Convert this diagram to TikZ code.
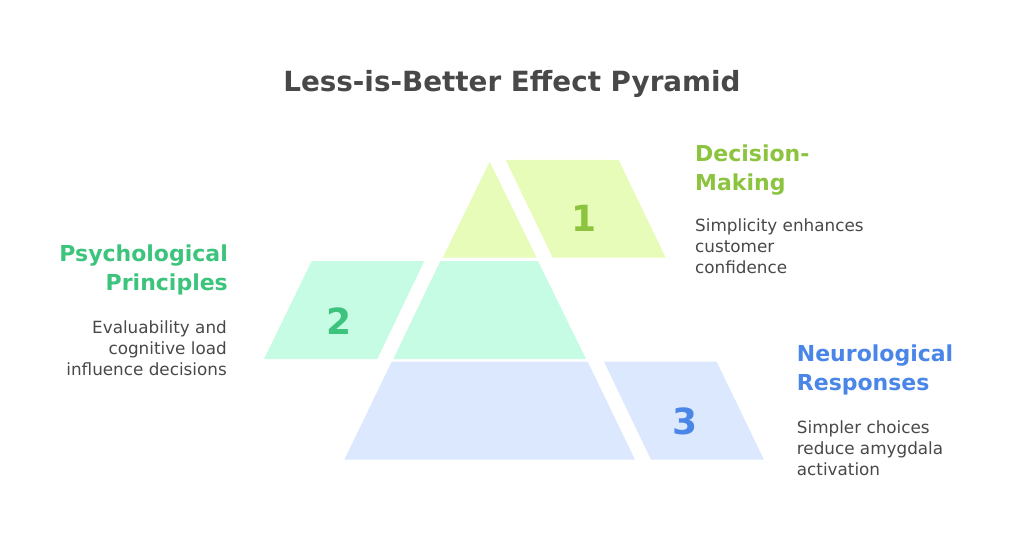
\documentclass[tikz,border=0pt]{standalone}
\usepackage{fontspec}
\setmainfont{DejaVu Sans}
\definecolor{inkgray}{HTML}{484848}
\definecolor{topfill}{HTML}{E8FCB9}
\definecolor{topink}{HTML}{8CC43F}
\definecolor{midfill}{HTML}{C7FCE4}
\definecolor{midink}{HTML}{3CC47C}
\definecolor{botfill}{HTML}{DCE8FD}
\definecolor{botink}{HTML}{4A86E8}
\begin{document}
\begin{tikzpicture}[x=1pt,y=-1pt]

\tikzstyle{heading}=[font=\fontsize{22}{28.3}\selectfont\bfseries,inner sep=0pt]
\tikzstyle{body}=[font=\fontsize{16.8}{21}\selectfont,text=inkgray,inner sep=0pt]
\tikzstyle{num}=[font=\fontsize{36}{36}\selectfont\bfseries,inner sep=0pt]

\useasboundingbox (0,0) rectangle (1024,548);

\draw (512,91.7) node [anchor=base,font=\fontsize{27.8}{27.8}\selectfont\bfseries,text=inkgray,inner sep=0pt] (title) {Less-is-Better Effect Pyramid} ;

% level 1
\fill[topfill] (489.7,161.7) -- (536.7,257.7) -- (442.7,257.7) -- cycle ;
\fill[topfill] (505.7,160) -- (618.7,160) -- (665.7,257.7) -- (552.7,257.7) -- cycle ;
\draw (584,218) node [num,text=topink] (one) {1} ;
\draw (695,190) node [heading,text=topink,anchor=base west,align=left] (dechead) {Decision-\\Making} ;
\draw (695,273) node [body,anchor=base west,align=left] (dectext) {Simplicity enhances\\customer\\confidence} ;

% level 2
\fill[midfill] (440.3,261) -- (538,261) -- (586,359) -- (393.3,359) -- cycle ;
\fill[midfill] (311.7,261) -- (424.3,261) -- (377.3,359) -- (264,359) -- cycle ;
\draw (339,320.7) node [num,text=midink] (two) {2} ;
\draw (228,290) node [heading,text=midink,anchor=base east,align=right] (psyhead) {Psychological\\Principles} ;
\draw (227,375) node [body,anchor=base east,align=right] (psytext) {Evaluability and\\cognitive load\\influence decisions} ;

% level 3
\fill[botfill] (391.7,361.7) -- (587.7,361.7) -- (635,459.7) -- (344.3,459.7) -- cycle ;
\fill[botfill] (604,361.7) -- (716.7,361.7) -- (764,459.7) -- (651,459.7) -- cycle ;
\draw (685,421.7) node [num,text=botink] (three) {3} ;
\draw (796.7,390) node [heading,text=botink,anchor=base west,align=left] (neuhead) {Neurological\\Responses} ;
\draw (796.7,475) node [body,anchor=base west,align=left] (neutext) {Simpler choices\\reduce amygdala\\activation} ;

\end{tikzpicture}
\end{document}
